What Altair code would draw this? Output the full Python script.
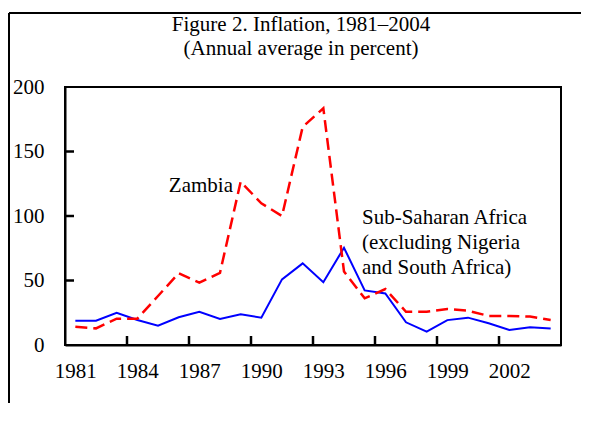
import altair as alt
import pandas as pd

years = list(range(1981, 2005))
ssa = [18.8, 18.8, 25.0, 19.4, 15.0, 21.5, 25.8, 20.2, 23.8, 21.2, 50.9, 63.3,
       48.7, 75.4, 42.3, 40.0, 17.6, 10.3, 19.3, 21.2, 16.8, 11.6, 13.7, 12.7]
zambia = [14.2, 12.9, 20.4, 20.4, 38.0, 55.6, 48.3, 56.0, 126.6, 109.8, 100.0, 169.0,
          183.5, 57.0, 36.2, 43.4, 25.8, 25.8, 27.9, 26.6, 22.5, 22.5, 22.0, 19.4]
x_label_values = [1981, 1984, 1987, 1990, 1993, 1996, 1999, 2002]
x_tick_values = [1983.5, 1986.5, 1989.5, 1992.5, 1995.5, 1998.5, 2001.5]
y_values = [0, 50, 100, 150, 200]
y_tick_values = [50, 100, 150]
title_lines = ["Figure 2. Inflation, 1981\u20132004", "(Annual average in percent)"]
zambia_label = "Zambia"
ssa_label = ["Sub-Saharan Africa", "(excluding Nigeria", "and South Africa)"]

FONT = "Liberation Serif"
FS = 21

df = pd.DataFrame({"year": years, "ssa": ssa, "zambia": zambia})
one = pd.DataFrame({"k": [0]})

xscale = alt.Scale(domain=[1980.5, 2004.5], nice=False, zero=False)
yscale = alt.Scale(domain=[0, 200], nice=False, zero=True)

common_axis = dict(
    ticks=False,
    domainColor="black",
    domainWidth=2,
    labelFont=FONT,
    labelFontSize=FS,
    labelColor="black",
    labelOverlap=False,
    labelFlush=False,
    grid=False,
    title=None,
)
xaxis = alt.Axis(values=x_label_values, format="d", labelPadding=15, **common_axis)
yaxis = alt.Axis(values=y_values, labelPadding=21, **common_axis)

base = alt.Chart(df)
ssa_line = base.mark_line(color="#0000FF", strokeWidth=2).encode(
    x=alt.X("year:Q", scale=xscale, axis=xaxis),
    y=alt.Y("ssa:Q", scale=yscale, axis=yaxis),
)
zam_line = base.mark_line(color="#FF0000", strokeWidth=2.5, strokeDash=[12, 6]).encode(
    x=alt.X("year:Q", scale=xscale),
    y=alt.Y("zambia:Q", scale=yscale),
)

x_ticks = alt.Chart(alt.Data(values=[{"xt": v} for v in x_tick_values])).mark_rule(
    color="#000000", strokeWidth=2.5, opacity=1).encode(
    x=alt.X("xt:Q", scale=xscale),
    y=alt.value(258), y2=alt.value(249))
y_ticks = alt.Chart(alt.Data(values=[{"yt": v} for v in y_tick_values])).mark_rule(
    color="#000000", strokeWidth=2.5, opacity=1).encode(
    y=alt.Y("yt:Q", scale=yscale),
    x=alt.value(0), x2=alt.value(9))

txt = dict(font=FONT, fontSize=FS, color="black")
zam_text = alt.Chart(one).mark_text(text=zambia_label, align="right", baseline="alphabetic", **txt).encode(
    x=alt.value(168), y=alt.value(105))
ssa_text = alt.Chart(one).mark_text(text=ssa_label, align="left", baseline="alphabetic", lineHeight=25, **txt).encode(
    x=alt.value(297), y=alt.value(137))
t1 = alt.Chart(one).mark_text(text=title_lines[0], align="center", baseline="alphabetic", **txt).encode(
    x=alt.value(236), y=alt.value(-56))
t2 = alt.Chart(one).mark_text(text=title_lines[1], align="center", baseline="alphabetic", **txt).encode(
    x=alt.value(236), y=alt.value(-32))
frame_top = alt.Chart(one).mark_rule(color="black", strokeWidth=2).encode(
    x=alt.value(-56), x2=alt.value(700), y=alt.value(-74))
frame_left = alt.Chart(one).mark_rule(color="black", strokeWidth=2).encode(
    x=alt.value(-56), y=alt.value(-74), y2=alt.value(500))

chart = alt.layer(ssa_line, zam_line, zam_text, ssa_text, t1, t2,
                  frame_top, frame_left, x_ticks, y_ticks).properties(
    width=496,
    height=258,
    autosize=alt.AutoSizeParams(type="none"),
    padding={"left": 57, "top": 79, "right": 20, "bottom": 58},
    background="white",
).configure_view(stroke="black", strokeWidth=2)

chart.save("out.html", embed_options={"renderer": "svg", "actions": False})
